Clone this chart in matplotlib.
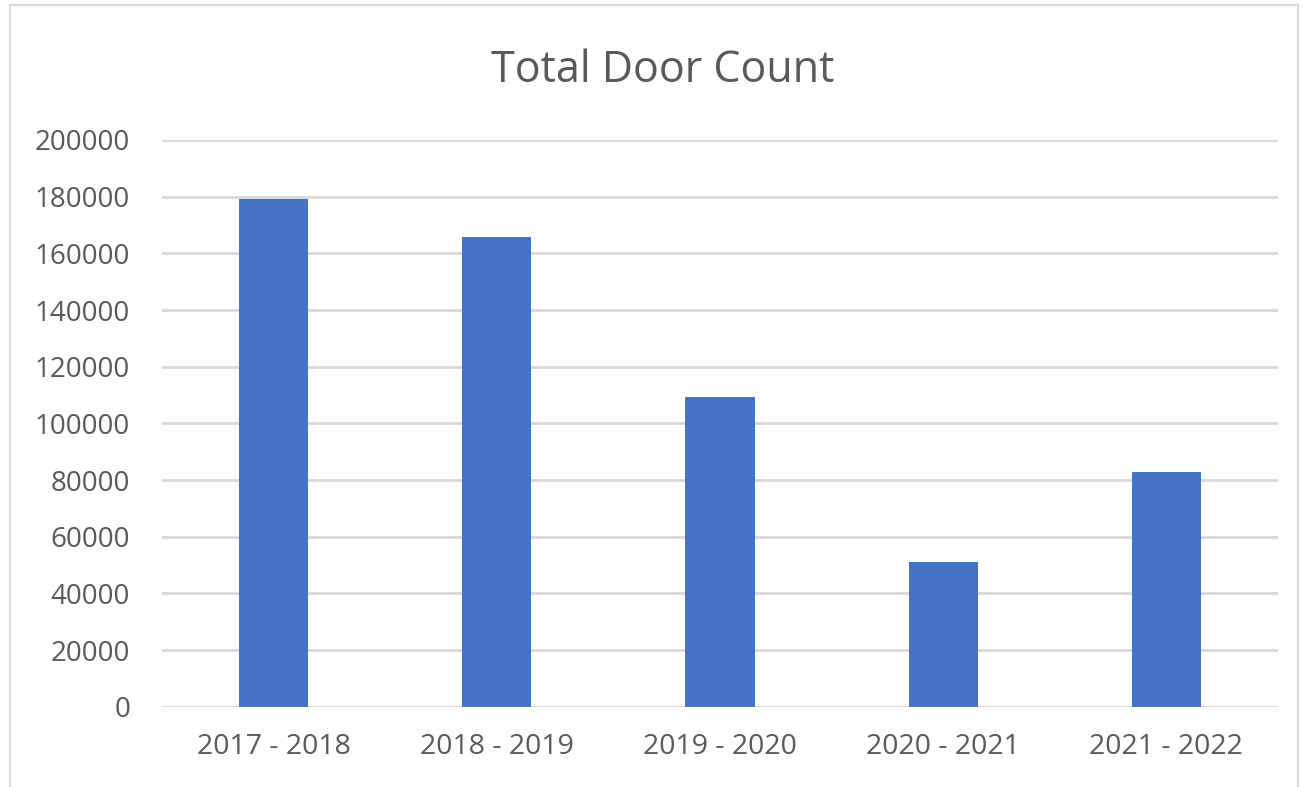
import matplotlib
matplotlib.use("Agg")
import matplotlib.pyplot as plt
from matplotlib.patches import Rectangle

categories = ["2017 - 2018", "2018 - 2019", "2019 - 2020", "2020 - 2021", "2021 - 2022"]
door_counts = [179200, 165700, 109200, 51000, 82900]
yticks = [0, 20000, 40000, 60000, 80000, 100000, 120000, 140000, 160000, 180000, 200000]
title = "Total Door Count"

text_color = "#595959"
bar_color = "#4472C4"
grid_color = "#D9D9D9"
font = ["Open Sans", "DejaVu Sans"]

fig = plt.figure(figsize=(13.03, 7.87), dpi=100)
fig.patch.set_facecolor("white")
# outer chart frame
W, H = 1303, 787
fig.patches.append(Rectangle((10 / W, -0.01), (1298 - 10) / W, 1 - 5 / H + 0.01,
                             transform=fig.transFigure, fill=False,
                             edgecolor="#D9D9D9", linewidth=1.5))

ax = fig.add_axes([162 / W, 1 - 706.7 / H, (1278 - 162) / W, (706.7 - 140) / H])
x = list(range(len(categories)))
ax.bar(x, door_counts, width=0.31, color=bar_color, zorder=3)
ax.set_xlim(-0.5, len(categories) - 0.5)
ax.set_ylim(0, 200000)
ax.set_yticks(yticks)
ax.set_yticklabels([str(v) for v in yticks])
ax.set_xticks(x)
ax.set_xticklabels(categories)
ax.grid(axis="y", color=grid_color, linewidth=2.0, zorder=0)
ax.set_axisbelow(True)
for s in ax.spines.values():
    s.set_visible(False)
ax.tick_params(axis="y", length=0, colors=text_color, labelsize=20, pad=23)
ax.tick_params(axis="x", length=0, colors=text_color, labelsize=20.5, pad=19)
for lab in ax.get_xticklabels() + ax.get_yticklabels():
    lab.set_family(font)
    lab.set_color(text_color)

fig.text(663 / W, 1 - 71 / H, title, ha="center", va="center",
         fontsize=31, color=text_color, family=font)

fig.savefig("out.png", dpi=100)
